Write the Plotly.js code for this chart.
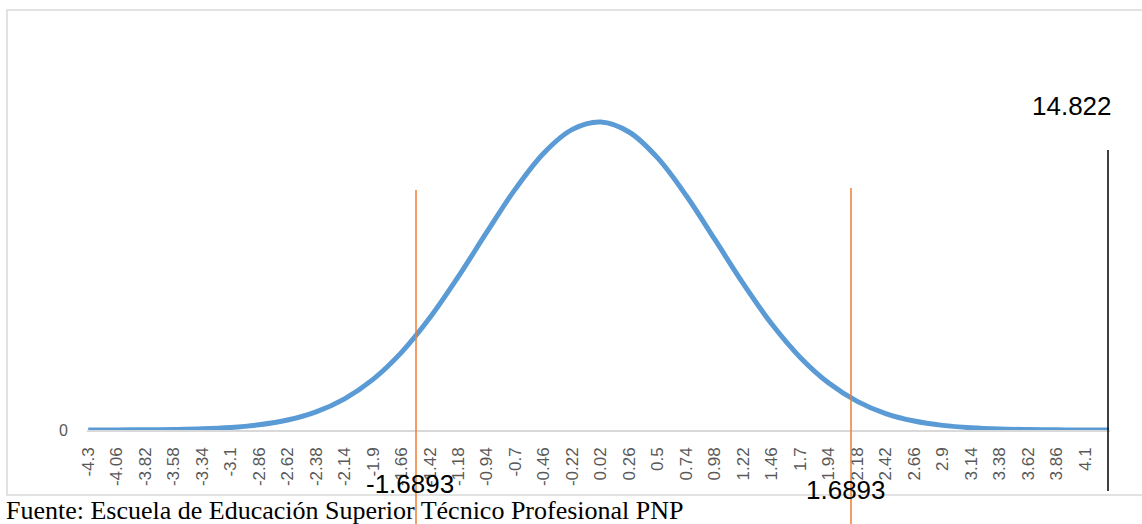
<!DOCTYPE html>
<html>
<head>
<meta charset="utf-8">
<script src="https://cdn.plot.ly/plotly-3.0.1.min.js"></script>
<style>html,body{margin:0;padding:0;background:#fff;}#chart{width:1142px;height:524px;}</style>
</head>
<body>
<div id="chart"></div>
<script>
// Category positions (x) and curve heights
const xValues = [-4.3,-4.06,-3.82,-3.58,-3.34,-3.1,-2.86,-2.62,-2.38,-2.14,-1.9,-1.66,-1.42,-1.18,-0.94,-0.7,-0.46,-0.22,0.02,0.26,0.5,0.74,0.98,1.22,1.46,1.7,1.94,2.18,2.42,2.66,2.9,3.14,3.38,3.62,3.86,4.1,4.3];
const yValues = [0.0000,0.0001,0.0003,0.0007,0.0015,0.0033,0.0067,0.0129,0.0235,0.0404,0.0656,0.1006,0.1456,0.1989,0.2565,0.3123,0.3589,0.3894,0.3989,0.3857,0.3521,0.3034,0.2468,0.1895,0.1372,0.0940,0.0608,0.0371,0.0213,0.0116,0.0060,0.0029,0.0013,0.0006,0.0002,0.0001,0.0000];
const tickLabels = ["-4.3","-4.06","-3.82","-3.58","-3.34","-3.1","-2.86","-2.62","-2.38","-2.14","-1.9","-1.66","-1.42","-1.18","-0.94","-0.7","-0.46","-0.22","0.02","0.26","0.5","0.74","0.98","1.22","1.46","1.7","1.94","2.18","2.42","2.66","2.9","3.14","3.38","3.62","3.86","4.1"];
const tickValues = [-4.3,-4.06,-3.82,-3.58,-3.34,-3.1,-2.86,-2.62,-2.38,-2.14,-1.9,-1.66,-1.42,-1.18,-0.94,-0.7,-0.46,-0.22,0.02,0.26,0.5,0.74,0.98,1.22,1.46,1.7,1.94,2.18,2.42,2.66,2.9,3.14,3.38,3.62,3.86,4.1];
const criticalLabels = ["-1.6893","1.6893"];
const statisticLabel = "14.822";
const sourceText = "Fuente: Escuela de Educación Superior Técnico Profesional PNP";

// layout geometry (pixels)
const W = 1142, H = 524, ML = 87, MT = 20, PW = 1023, PH = 410;
const px = x => (x - ML) / PW;          // pixel x -> paper
const py = y => (MT + PH - y) / PH;     // pixel y -> paper

const trace = {
  x: xValues, y: yValues, type: 'scatter', mode: 'lines',
  line: {color: '#5B9BD5', width: 5, shape: 'spline', smoothing: 1},
  hoverinfo: 'skip', cliponaxis: false
};

const labelFont = {family: 'Liberation Sans, Arial, sans-serif', size: 26, color: '#000000'};

const layout = {
  width: W, height: H,
  margin: {l: ML, r: W - ML - PW, t: MT, b: H - MT - PH, pad: 0},
  paper_bgcolor: '#ffffff', plot_bgcolor: '#ffffff',
  showlegend: false,
  xaxis: {
    range: [-4.31, 4.31], showgrid: false, zeroline: false,
    showline: true, linecolor: '#d9d9d9', linewidth: 1.5,
    tickmode: 'array', tickvals: tickValues, ticktext: tickLabels,
    tickangle: -90, ticks: '', ticklabelstandoff: 9,
    tickfont: {family: 'Liberation Sans, Arial, sans-serif', size: 17, color: '#595959'}
  },
  yaxis: {
    range: [0, PH / 772], showgrid: false, zeroline: false, showline: false,
    tickmode: 'array', tickvals: [0], ticktext: ['0'], ticks: '', ticklabelstandoff: 18,
    tickfont: {family: 'Liberation Sans, Arial, sans-serif', size: 16, color: '#595959'}
  },
  shapes: [
    {type: 'rect', xref: 'paper', yref: 'paper', x0: px(7), x1: px(1150), y0: py(495), y1: py(10),
     line: {color: '#d9d9d9', width: 1.5}, fillcolor: 'rgba(0,0,0,0)', layer: 'below'},
    {type: 'line', xref: 'paper', yref: 'paper', x0: px(416), x1: px(416), y0: py(524), y1: py(190),
     line: {color: '#ED7D31', width: 1.5}},
    {type: 'line', xref: 'paper', yref: 'paper', x0: px(851), x1: px(851), y0: py(524), y1: py(188),
     line: {color: '#ED7D31', width: 1.5}},
    {type: 'line', xref: 'paper', yref: 'paper', x0: px(1108), x1: px(1108), y0: py(491), y1: py(150),
     line: {color: '#000000', width: 1.5}}
  ],
  annotations: [
    {xref: 'paper', yref: 'paper', x: px(410), y: py(484), text: criticalLabels[0], showarrow: false,
     xanchor: 'center', yanchor: 'middle', font: labelFont},
    {xref: 'paper', yref: 'paper', x: px(846), y: py(490), text: criticalLabels[1], showarrow: false,
     xanchor: 'center', yanchor: 'middle', font: labelFont},
    {xref: 'paper', yref: 'paper', x: px(1072), y: py(106), text: statisticLabel, showarrow: false,
     xanchor: 'center', yanchor: 'middle', font: labelFont},
    {xref: 'paper', yref: 'paper', x: px(4), y: py(510), text: sourceText, showarrow: false,
     xanchor: 'left', yanchor: 'middle',
     font: {family: 'Liberation Serif, Times New Roman, serif', size: 26, color: '#000000'}}
  ]
};

Plotly.newPlot('chart', [trace], layout, {displayModeBar: false, staticPlot: true});
</script>
</body>
</html>
